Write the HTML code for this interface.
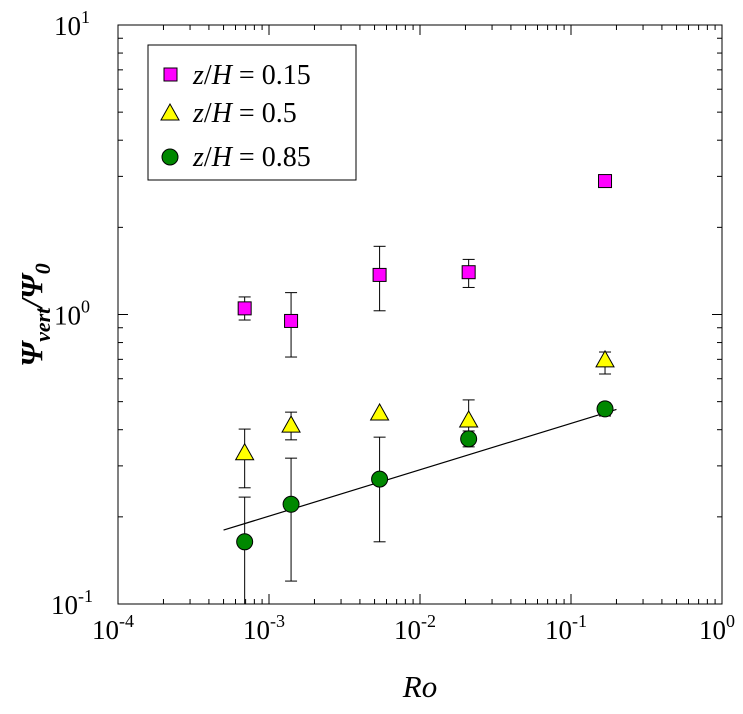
<!DOCTYPE html>
<html><head><meta charset="utf-8"><style>
body{margin:0;background:#fff;width:743px;height:709px;overflow:hidden}
text{font-family:"Liberation Serif",serif;fill:#000}
</style></head><body>
<svg id="chart" width="743" height="709" xmlns="http://www.w3.org/2000/svg"></svg>
<script>
const roValues=[6.9e-4,1.4e-3,5.4e-3,0.021,0.168];
const magentaY=[1.05,0.95,1.37,1.4,2.89];
const magentaLo=[0.957,0.713,1.03,1.24,null];
const magentaHi=[1.15,1.19,1.72,1.55,null];
const yellowY=[0.333,0.415,0.457,0.432,0.697];
const yellowLo=[0.252,0.369,null,0.378,0.623];
const yellowHi=[0.402,0.46,null,0.507,0.742];
const greenY=[0.164,0.221,0.27,0.372,0.472];
const greenLo=[0.1,0.12,0.164,0.349,0.446];
const greenHi=[0.234,0.319,0.377,0.396,0.495];
const fitX=[5.0e-4,0.2];
const fitY=[0.18,0.47];
const xTickExp=[-4,-3,-2,-1,0];
const yTickExp=[-1,0,1];

const NS="http://www.w3.org/2000/svg";
const svg=document.getElementById('chart');
const L=118,R=722,T=25,B=604;
const sx=v=>L+(Math.log10(v)+4)/4*(R-L);
const sy=v=>B-(Math.log10(v)+1)/2*(B-T);
function el(tag,attrs,parent){const e=document.createElementNS(NS,tag);for(const k in attrs)e.setAttribute(k,attrs[k]);(parent||svg).appendChild(e);return e;}

const frame=el('rect',{x:L,y:T,width:R-L,height:B-T,fill:'none',stroke:'#000','stroke-width':1});



for(let d=-4;d<=0;d++){
  for(let m=1;m<=9;m++){
    if(d===0&&m>1)break;
    const x=sx(m*Math.pow(10,d));const len=m===1?10:5;
    const t1=el('line',{x1:x,y1:B,x2:x,y2:B-len,stroke:'#000'});
    
    
    const t2=el('line',{x1:x,y1:T,x2:x,y2:T+len,stroke:'#000'});
    
    
  }
}
xTickExp.forEach(e=>{
  const t=el('text',{x:sx(Math.pow(10,e))-5,y:B+35,'text-anchor':'middle','font-size':27});
  t.innerHTML='10<tspan dy="-12" font-size="18">'+e+'</tspan>';
  
  
});
for(let d=-1;d<=1;d++){
  for(let m=1;m<=9;m++){
    if(d===1&&m>1)break;
    const y=sy(m*Math.pow(10,d));const len=m===1?10:5;
    const t1=el('line',{x1:L,y1:y,x2:L+len,y2:y,stroke:'#000'});
    
    
    const t2=el('line',{x1:R,y1:y,x2:R-len,y2:y,stroke:'#000'});
    
    
  }
}
yTickExp.forEach(e=>{
  const t=el('text',{x:L-46,y:sy(Math.pow(10,e))+10,'text-anchor':'middle','font-size':27});
  t.innerHTML='10<tspan dy="-12" font-size="18">'+e+'</tspan>';
  
  
});

const xt=el('text',{x:420,y:697,'text-anchor':'middle','font-size':31,'font-style':'italic'});
xt.textContent='Ro';


const yt=el('text',{x:0,y:0,'text-anchor':'middle','font-size':31,'font-style':'italic','font-weight':'bold',transform:'translate(42,315) rotate(-90)'});
yt.innerHTML='Ψ<tspan dy="8" font-size="22">vert</tspan><tspan dy="-8">/Ψ</tspan><tspan dy="8" font-size="22">0</tspan>';



const fl=el('line',{x1:sx(fitX[0]),y1:sy(fitY[0]),x2:sx(fitX[1]),y2:sy(fitY[1]),stroke:'#000','stroke-width':1.2});



function errbars(ys,lo,hi,name){
  roValues.forEach((r,i)=>{
    if(lo[i]==null)return;
    const x=sx(r);
    const g=el('g',{stroke:'#000','stroke-width':1});
    
    
    el('line',{x1:x,y1:sy(lo[i]),x2:x,y2:sy(hi[i])},g);
    el('line',{x1:x-6,y1:sy(hi[i]),x2:x+6,y2:sy(hi[i])},g);
    if(lo[i]>0.1)el('line',{x1:x-6,y1:sy(lo[i]),x2:x+6,y2:sy(lo[i])},g);
  });
}
errbars(magentaY,magentaLo,magentaHi,'magenta');
errbars(yellowY,yellowLo,yellowHi,'yellow');
errbars(greenY,greenLo,greenHi,'green');

roValues.forEach((r,i)=>{
  const x=sx(r);
  const m=el('rect',{x:x-6.5,y:sy(magentaY[i])-6.5,width:13,height:13,fill:'#f0f',stroke:'#000'});
  
  
  const y=sy(yellowY[i]);
  const t=el('polygon',{points:`${x},${y-9} ${x-9},${y+7} ${x+9},${y+7}`,fill:'#ff0',stroke:'#000'});
  
  
  const c=el('circle',{cx:x,cy:sy(greenY[i]),r:8,fill:'#080',stroke:'#000'});
  
  
});

const lg=el('g',{});


el('rect',{x:148,y:45,width:208,height:135,fill:'#fff',stroke:'#000'},lg);
el('rect',{x:164,y:68,width:13,height:13,fill:'#f0f',stroke:'#000'},lg);
el('polygon',{points:'170,104 161,120 179,120',fill:'#ff0',stroke:'#000'},lg);
el('circle',{cx:170,cy:157,r:8,fill:'#080',stroke:'#000'},lg);
const labs=[['0.15',84],['0.5',122],['0.85',166]];
labs.forEach(([v,y])=>{
  const t=el('text',{x:193,y:y,'font-size':28},lg);
  t.innerHTML='<tspan font-style="italic">z</tspan>/<tspan font-style="italic">H</tspan> = '+v;
  
  
});
</script>
</body></html>
